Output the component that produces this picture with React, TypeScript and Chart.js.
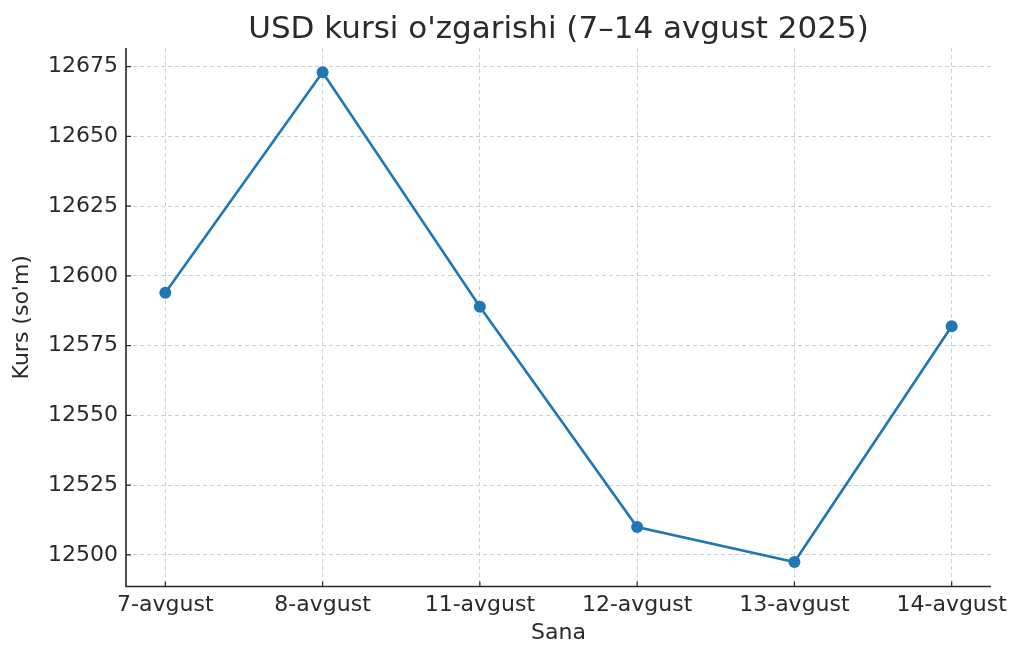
import React, { useEffect, useRef } from "react";
import { Chart, registerables } from "chart.js";

Chart.register(...registerables);

const categories = ["7-avgust", "8-avgust", "11-avgust", "12-avgust", "13-avgust", "14-avgust"];
const rates = [12594, 12673, 12589, 12510, 12497.5, 12582];
const yTicks = [12500, 12525, 12550, 12575, 12600, 12625, 12650, 12675];
const titleText = "USD kursi o'zgarishi (7–14 avgust 2025)";

const TEXT = "#2a2a2a";
const FONT = "'DejaVu Sans', sans-serif";

const spinesPlugin = {
  id: "spines",
  afterDraw(chart: any) {
    const { ctx, chartArea, scales } = chart;
    const x = scales.x;
    const y = scales.y;
    ctx.save();
    ctx.strokeStyle = "#262626";
    ctx.lineWidth = 1.6;
    ctx.beginPath();
    ctx.moveTo(chartArea.left, chartArea.top);
    ctx.lineTo(chartArea.left, chartArea.bottom);
    ctx.lineTo(chartArea.right, chartArea.bottom);
    ctx.stroke();
    ctx.lineWidth = 1.2;
    ctx.beginPath();
    yTicks.forEach((v) => {
      const py = y.getPixelForValue(v);
      ctx.moveTo(chartArea.left, py);
      ctx.lineTo(chartArea.left + 5, py);
    });
    categories.forEach((_, i) => {
      const px = x.getPixelForValue(i);
      ctx.moveTo(px, chartArea.bottom);
      ctx.lineTo(px, chartArea.bottom - 5);
    });
    ctx.stroke();
    // title centred over the plot area
    ctx.fillStyle = TEXT;
    ctx.font = `31px ${FONT}`;
    ctx.textAlign = "center";
    ctx.textBaseline = "alphabetic";
    ctx.fillText(titleText, (chartArea.left + chartArea.right) / 2, 38);
    ctx.restore();
  },
};

export default function App() {
  const ref = useRef<HTMLCanvasElement>(null);
  useEffect(() => {
    if (!ref.current) return;
    const chart = new Chart(ref.current, {
      type: "line",
      data: {
        datasets: [
          {
            data: rates.map((v, i) => ({ x: i, y: v })),
            borderColor: "#1f77b4",
            backgroundColor: "#1f77b4",
            borderWidth: 2.6,
            pointRadius: 6,
            pointBorderWidth: 0,
            pointBackgroundColor: "#1f77b4",
            tension: 0,
          },
        ],
      },
      options: {
        responsive: false,
        animation: false,
        layout: { padding: { left: 0, right: 33, top: 48, bottom: 0 } },
        plugins: {
          legend: { display: false },
          tooltip: { enabled: false },
          title: { display: false },
        },
        scales: {
          x: {
            type: "linear",
            min: -0.25,
            max: 5.25,
            afterBuildTicks: (scale: any) => {
              scale.ticks = categories.map((_, i) => ({ value: i }));
            },
            afterFit: (scale: any) => {
              scale.height = 74.5;
              scale.paddingLeft = 0;
              scale.paddingRight = 0;
            },
            border: { display: false, dash: [4, 3] },
            grid: {
              color: "#cfcfcf",
              lineWidth: 1,
              drawTicks: false,
            },
            ticks: {
              padding: 6,
              color: TEXT,
              font: { family: FONT, size: 22 },
              maxRotation: 0,
              autoSkip: false,
              callback: (v: any) => categories[Math.round(Number(v))] ?? "",
            },
            title: {
              display: true,
              text: "Sana",
              color: TEXT,
              font: { family: FONT, size: 22 },
              padding: { top: 4, bottom: 15 },
            },
          },
          y: {
            min: 12488.7,
            max: 12681.7,
            afterBuildTicks: (scale: any) => {
              scale.ticks = yTicks.map((v) => ({ value: v }));
            },
            afterFit: (scale: any) => {
              scale.width = 126;
              scale.paddingTop = 0;
              scale.paddingBottom = 0;
            },
            border: { display: false, dash: [4, 3] },
            grid: {
              color: "#cfcfcf",
              lineWidth: 1,
              drawTicks: false,
            },
            ticks: {
              padding: 8,
              color: TEXT,
              font: { family: FONT, size: 22 },
              autoSkip: false,
              callback: (v: any) => String(v),
            },
            title: {
              display: true,
              text: "Kurs (so'm)",
              color: TEXT,
              font: { family: FONT, size: 22 },
              padding: { top: 9, bottom: 4 },
            },
          },
        },
      } as any,
      plugins: [spinesPlugin],
    });
    return () => chart.destroy();
  }, []);
  return (
    <div style={{ position: "absolute", left: 0, top: 0, width: 1024, height: 661, background: "#fff" }}>
      <canvas ref={ref} width={1024} height={661} style={{ display: "block" }} />
    </div>
  );
}
